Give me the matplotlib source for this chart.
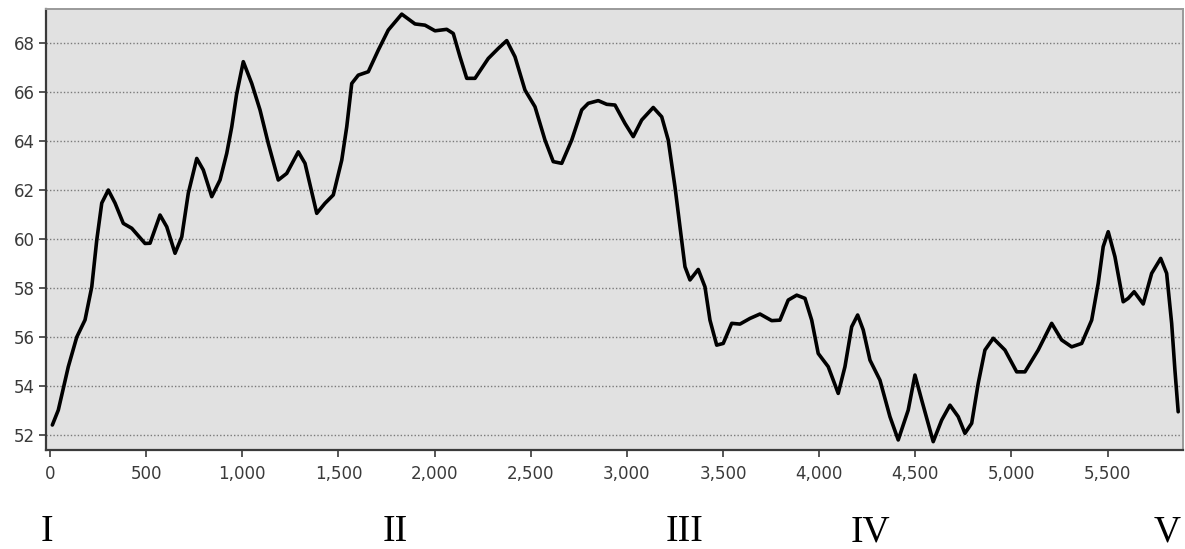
import matplotlib
matplotlib.use("Agg")
import matplotlib.pyplot as plt
from matplotlib.ticker import FuncFormatter, MultipleLocator

# Profile series: distance along the section and the measured value
distance = [12, 43, 95, 139, 182, 217, 243, 269, 303, 338, 381, 425, 494, 520,
            572, 607, 650, 685, 719, 763, 797, 841, 884, 919, 945, 970, 1005,
            1049, 1092, 1135, 1187, 1231, 1291, 1326, 1387, 1430, 1473, 1517,
            1543, 1569, 1603, 1655, 1707, 1759, 1829, 1898, 1950, 2002, 2063,
            2097, 2132, 2167, 2210, 2279, 2331, 2375, 2418, 2470, 2522, 2574,
            2617, 2661, 2713, 2765, 2799, 2851, 2895, 2938, 2990, 3033, 3077,
            3137, 3181, 3215, 3250, 3276, 3302, 3328, 3371, 3406, 3432, 3467,
            3501, 3545, 3588, 3640, 3692, 3753, 3796, 3839, 3883, 3926, 3961,
            3995, 4047, 4099, 4134, 4169, 4200, 4229, 4264, 4316, 4368, 4411,
            4463, 4498, 4533, 4593, 4637, 4680, 4723, 4758, 4793, 4827, 4862,
            4905, 4966, 5027, 5070, 5139, 5174, 5209, 5261, 5313, 5365, 5417,
            5451, 5477, 5503, 5538, 5581, 5607, 5638, 5685, 5729, 5776, 5807,
            5833, 5850, 5867]
value = [52.41, 53.02, 54.79, 56.00, 56.70, 58.05, 59.96, 61.47, 62.00, 61.47,
         60.64, 60.44, 59.82, 59.83, 60.98, 60.50, 59.42, 60.09, 61.87, 63.29,
         62.82, 61.73, 62.41, 63.50, 64.58, 65.90, 67.24, 66.35, 65.27, 63.90,
         62.41, 62.68, 63.56, 63.09, 61.05, 61.46, 61.80, 63.22, 64.58, 66.35,
         66.69, 66.83, 67.71, 68.53, 69.18, 68.78, 68.73, 68.50, 68.56, 68.39,
         67.44, 66.56, 66.56, 67.37, 67.78, 68.10, 67.44, 66.08, 65.40, 64.04,
         63.16, 63.09, 64.04, 65.27, 65.54, 65.65, 65.50, 65.47, 64.72, 64.18,
         64.86, 65.37, 64.99, 64.04, 62.13, 60.50, 58.87, 58.33, 58.76, 58.05,
         56.69, 55.67, 55.74, 56.56, 56.53, 56.76, 56.94, 56.67, 56.69, 57.51,
         57.71, 57.58, 56.69, 55.33, 54.79, 53.70, 54.79, 56.42, 56.90, 56.29,
         55.06, 54.24, 52.75, 51.80, 53.02, 54.45, 53.43, 51.73, 52.61, 53.22,
         52.75, 52.07, 52.48, 54.11, 55.47, 55.95, 55.47, 54.58, 54.58, 55.47,
         56.01, 56.56, 55.88, 55.60, 55.74, 56.69, 58.19, 59.69, 60.30, 59.28,
         57.44, 57.58, 57.85, 57.35, 58.60, 59.21, 58.60, 56.56, 54.65, 52.95]

y_ticks = [52, 54, 56, 58, 60, 62, 64, 66, 68]
section_labels = ["I", "II", "III", "IV", "V"]
section_label_x = [47, 395, 685, 870, 1167]   # pixel centres across the figure

W, H = 1185, 549
fig = plt.figure(figsize=(W / 100, H / 100), dpi=100)
fig.patch.set_facecolor("white")
ax = fig.add_axes([46 / W, 1 - 450 / H, (1183 - 46) / W, (450 - 9) / H])
ax.set_facecolor("#e1e1e1")

ax.plot(distance, value, color="black", lw=2.6, solid_joinstyle="round",
        solid_capstyle="round", zorder=3)

ax.set_xlim(-21, 5892)
ax.set_ylim(51.39, 69.39)
ax.set_yticks(y_ticks)
ax.xaxis.set_major_locator(MultipleLocator(500))
ax.xaxis.set_major_formatter(FuncFormatter(lambda v, p: f"{int(v):,}"))

ax.grid(axis="y", linestyle=(0, (1, 1.5)), color="#7a7a7a", lw=1.0, zorder=1)
ax.grid(axis="x", visible=False)

for side in ("left", "bottom"):
    ax.spines[side].set_color("#3a3a3a")
    ax.spines[side].set_linewidth(1.6)
for side in ("top", "right"):
    ax.spines[side].set_color("#9a9a9a")
    ax.spines[side].set_linewidth(1.4)

ax.tick_params(axis="both", direction="out", length=5, width=1.2,
               color="#3a3a3a", labelcolor="#3a3a3a", labelsize=12)
ax.tick_params(axis="x", pad=6)
ax.tick_params(axis="y", pad=3)

for lab, px in zip(section_labels, section_label_x):
    fig.text(px / W, 1 - 532 / H, lab, ha="center", va="center",
             family="Liberation Serif", fontsize=27, color="black")

fig.savefig("out.png", dpi=100)
